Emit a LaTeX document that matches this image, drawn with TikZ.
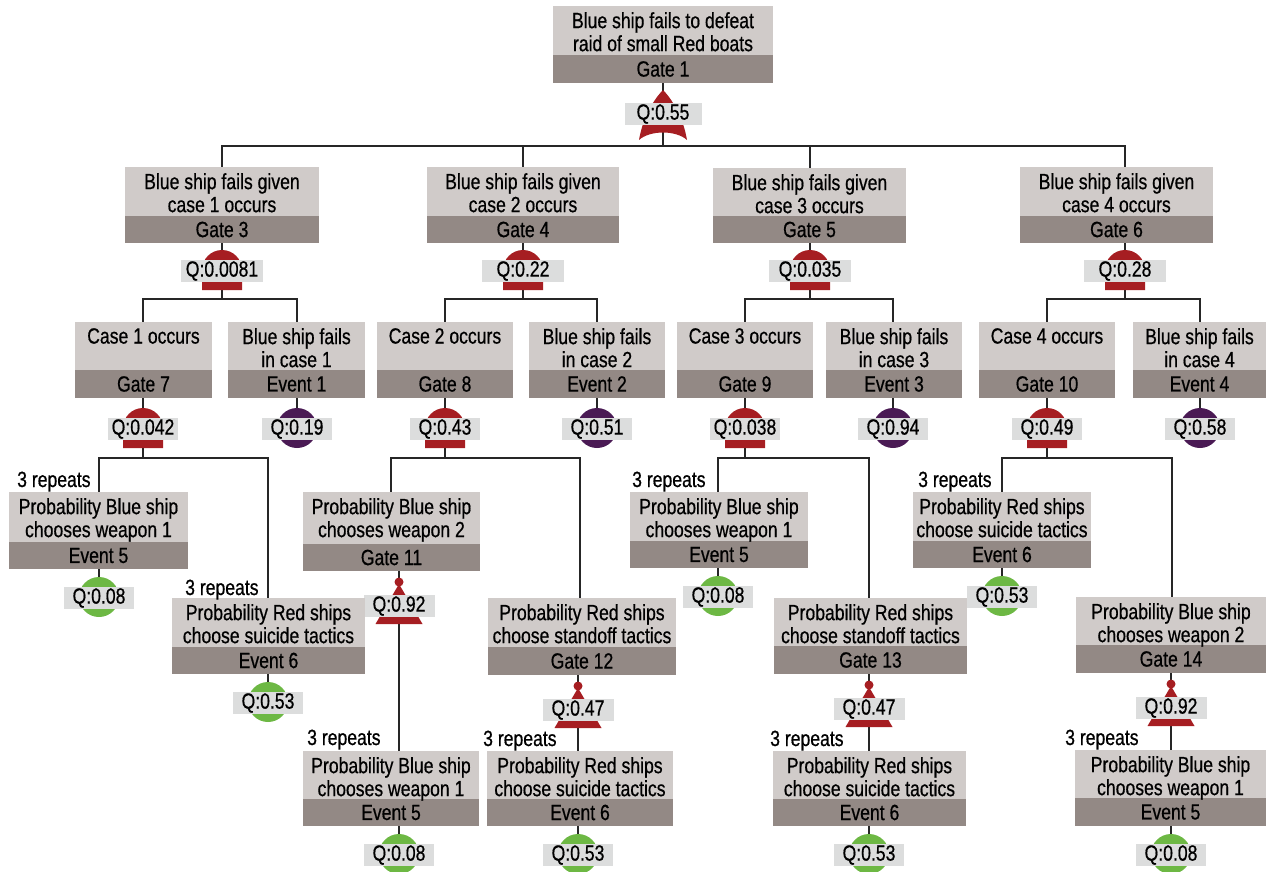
\documentclass[tikz,border=0pt]{standalone}
\usepackage{fontspec}
\setmainfont{Liberation Sans}[FakeStretch=0.8,FakeBold=0.6]
\pgfdeclarelayer{bg}
\pgfsetlayers{bg,main}
\definecolor{boxlight}{HTML}{D0CBC9}
\definecolor{boxdark}{HTML}{938985}
\definecolor{qgray}{HTML}{DCDDDD}
\definecolor{gred}{HTML}{A61E22}
\definecolor{gpurple}{HTML}{4A1A54}
\definecolor{ggreen}{HTML}{6DB844}
\tikzset{
  topbox/.style={fill=boxlight,draw=none,inner sep=0pt,outer sep=0pt},
  bandbox/.style={fill=boxdark,draw=none,inner sep=0pt,outer sep=0pt,font=\fontsize{22}{23}\selectfont},
  boxtxt/.style={align=center,inner sep=0pt,font=\fontsize{22}{23}\selectfont},
  qlab/.style={fill=qgray,inner sep=0pt,minimum height=22pt,font=\fontsize{22}{23}\selectfont},
  reptxt/.style={inner sep=0pt,anchor=base west,font=\fontsize{22}{23}\selectfont},
  wire/.style={draw=black!85,line width=1.2pt}
}
\newcommand\fbx[8]{%
  \pgfmathsetmacro\bxw{#3-#2}%
  \pgfmathsetmacro\bxt{#5-#4}%
  \pgfmathsetmacro\bxb{#6-#5}%
  \pgfmathsetmacro\bxc{(#2+#3)/2}%
  \node[topbox,minimum width=\bxw pt,minimum height=\bxt pt,anchor=north west] (#1) at (#2,#4) {};%
  \node[bandbox,minimum width=\bxw pt,minimum height=\bxb pt,anchor=north west] (#1b) at (#2,#5) {#8};%
  \node[boxtxt,anchor=north] (#1t) at (\bxc,#4+6) {#7};%
}
\newcommand\andg[5]{%
  \fill[gred] (#2,#3) ++(-20pt,0pt) arc[start angle=180,end angle=0,radius=20pt] -- ++(0,20) -- ++(-40pt,0pt) -- cycle;%
  \node[qlab,minimum width=#5pt] (#1) at (#2,#3+1) {Q:#4};%
}
\newcommand\evt[5]{%
  \fill[#5] (#2,#3) circle[radius=20pt];%
  \node[qlab,minimum width=70pt] (#1) at (#2,#3+1) {Q:#4};%
}
\newcommand\prig[4]{%
  \fill[gred] (#2,#3+11) circle[radius=4.5pt];%
  \fill[gred] (#2,#3+13) -- (#2+23.5,#3+53) -- (#2-23.5,#3+53) -- cycle;%
  \node[qlab,minimum width=71pt] (#1) at (#2,#3+35) {Q:#4};%
}
\begin{document}
\begin{tikzpicture}[x=1pt,y=-1pt]
\useasboundingbox (0,0) rectangle (1266,872);
% level 1
\fbx{g1}{553}{773}{6}{55}{83}{Blue ship fails to defeat\\raid of small Red boats}{Gate 1}
\fill[gred] (663,90) .. controls (671,98) and (683,116) .. (687,140) .. controls (676,130) and (650,130) .. (639,140) .. controls (643,116) and (655,98) .. cycle;
\node[qlab,minimum width=77pt] (qg1) at (663,114) {Q:0.55};
% level 2
\fbx{g3}{125}{319}{167}{216}{243}{Blue ship fails given\\case 1 occurs}{Gate 3}
\andg{qg3}{222}{270}{0.0081}{82}
\fbx{g4}{427}{619}{167}{216}{243}{Blue ship fails given\\case 2 occurs}{Gate 4}
\andg{qg4}{523}{270}{0.22}{82}
\fbx{g5}{713}{906}{168}{216}{243}{Blue ship fails given\\case 3 occurs}{Gate 5}
\andg{qg5}{810}{270}{0.035}{82}
\fbx{g6}{1020}{1213}{167}{216}{243}{Blue ship fails given\\case 4 occurs}{Gate 6}
\andg{qg6}{1125}{270}{0.28}{82}
% level 3
\fbx{c1}{75}{212}{322}{370}{398}{Case 1 occurs}{Gate 7}
\andg{qg7}{143}{428}{0.042}{70}
\fbx{e1}{228}{365}{322}{370}{398}{Blue ship fails\\in case 1}{Event 1}
\evt{qe1}{297}{428}{0.19}{gpurple}
\fbx{c2}{377}{513}{322}{370}{398}{Case 2 occurs}{Gate 8}
\andg{qg8}{445}{428}{0.43}{70}
\fbx{e2}{529}{665}{322}{370}{398}{Blue ship fails\\in case 2}{Event 2}
\evt{qe2}{597}{428}{0.51}{gpurple}
\fbx{c3}{677}{813}{322}{370}{398}{Case 3 occurs}{Gate 9}
\andg{qg9}{745}{428}{0.038}{70}
\fbx{e3}{826}{962}{322}{370}{398}{Blue ship fails\\in case 3}{Event 3}
\evt{qe3}{893}{428}{0.94}{gpurple}
\fbx{c4}{979}{1115}{322}{370}{398}{Case 4 occurs}{Gate 10}
\andg{qg10}{1047}{428}{0.49}{70}
\fbx{e4}{1133}{1266}{322}{370}{398}{Blue ship fails\\in case 4}{Event 4}
\evt{qe4}{1200}{428}{0.58}{gpurple}
% level 4 A
\fbx{a7}{9}{188}{492}{542}{569}{Probability Blue ship\\chooses weapon 1}{Event 5}
\evt{qa7}{99}{597}{0.08}{ggreen}
\fbx{a8}{303}{480}{492}{544}{571}{Probability Blue ship\\chooses weapon 2}{Gate 11}
\prig{qa8}{399}{571}{0.92}
\fbx{a9}{630}{808}{492}{541}{568}{Probability Blue ship\\chooses weapon 1}{Event 5}
\evt{qa9}{718}{596}{0.08}{ggreen}
\fbx{a10}{913}{1091}{492}{541}{568}{Probability Red ships\\choose suicide tactics}{Event 6}
\evt{qa10}{1002}{596}{0.53}{ggreen}
% level 4 B
\fbx{b7}{172}{365}{598}{647}{674}{Probability Red ships\\choose suicide tactics}{Event 6}
\evt{qb7}{268}{702}{0.53}{ggreen}
\fbx{b8}{488}{676}{598}{647}{675}{Probability Red ships\\choose standoff tactics}{Gate 12}
\prig{qb8}{578}{675}{0.47}
\fbx{b9}{774}{967}{598}{646}{674}{Probability Red ships\\choose standoff tactics}{Gate 13}
\prig{qb9}{869}{674}{0.47}
\fbx{b10}{1076}{1266}{597}{645}{673}{Probability Blue ship\\chooses weapon 2}{Gate 14}
\prig{qb10}{1171}{673}{0.92}
% level 5
\fbx{d11}{303}{479}{751}{799}{826}{Probability Blue ship\\chooses weapon 1}{Event 5}
\evt{qd11}{399}{854}{0.08}{ggreen}
\fbx{d12}{487}{673}{751}{799}{826}{Probability Red ships\\choose suicide tactics}{Event 6}
\evt{qd12}{578}{854}{0.53}{ggreen}
\fbx{d13}{773}{966}{751}{799}{826}{Probability Red ships\\choose suicide tactics}{Event 6}
\evt{qd13}{869}{854}{0.53}{ggreen}
\fbx{d14}{1075}{1266}{750}{798}{826}{Probability Blue ship\\chooses weapon 1}{Event 5}
\evt{qd14}{1171}{854}{0.08}{ggreen}
% repeats
\node[reptxt] (r1) at (17,487) {3 repeats};
\node[reptxt] (r2) at (185,595) {3 repeats};
\node[reptxt] (r3) at (307,745) {3 repeats};
\node[reptxt] (r4) at (483,746) {3 repeats};
\node[reptxt] (r5) at (632,487) {3 repeats};
\node[reptxt] (r6) at (770,746) {3 repeats};
\node[reptxt] (r7) at (918,487) {3 repeats};
\node[reptxt] (r8) at (1065,745) {3 repeats};
% coordinates
\coordinate (g3in) at (222,167); \coordinate (g4in) at (523,167);
\coordinate (g5in) at (810,168); \coordinate (g6in) at (1125,167);
\coordinate (c1in) at (143,322); \coordinate (e1in) at (297,322);
\coordinate (c2in) at (445,322); \coordinate (e2in) at (597,322);
\coordinate (c3in) at (745,322); \coordinate (e3in) at (893,322);
\coordinate (c4in) at (1047,322); \coordinate (e4in) at (1200,322);
\coordinate (a7in) at (99,492); \coordinate (b7in) at (268,598);
\coordinate (a8in) at (391,492); \coordinate (b8in) at (580,598);
\coordinate (a9in) at (718,492); \coordinate (b9in) at (869,598);
\coordinate (a10in) at (1002,492); \coordinate (b10in) at (1172,597);
\coordinate (d11in) at (399,751); \coordinate (d12in) at (578,751);
\coordinate (d13in) at (869,751); \coordinate (d14in) at (1171,750);
\coordinate (bus1) at (663,146);
\coordinate (bus3) at (222,299); \coordinate (bus4) at (523,299);
\coordinate (bus5) at (810,299); \coordinate (bus6) at (1125,299);
\coordinate (bus7) at (143,458); \coordinate (bus8) at (445,458);
\coordinate (bus9) at (745,458); \coordinate (bus10) at (1047,458);
\begin{pgfonlayer}{bg}
\foreach \b/\q in {g1b/qg1,g3b/qg3,g4b/qg4,g5b/qg5,g6b/qg6,c1b/qg7,e1b/qe1,c2b/qg8,e2b/qe2,c3b/qg9,e3b/qe3,c4b/qg10,e4b/qe4,a7b/qa7,a8b/qa8,a9b/qa9,a10b/qa10,b7b/qb7,b8b/qb8,b9b/qb9,b10b/qb10,d11b/qd11,d12b/qd12,d13b/qd13,d14b/qd14}
  {\draw[wire] (\q |- \b.south) -- (\q.center);}
\draw[wire] (qg1.center) -- (bus1);
\draw[wire] (g3in) |- (bus1) -| (g6in);
\draw[wire] (bus1 -| g4in) -- (g4in);
\draw[wire] (bus1 -| g5in) -- (g5in);
\draw[wire] (qg3.center) -- (bus3); \draw[wire] (c1in) |- (bus3) -| (e1in);
\draw[wire] (qg4.center) -- (bus4); \draw[wire] (c2in) |- (bus4) -| (e2in);
\draw[wire] (qg5.center) -- (bus5); \draw[wire] (c3in) |- (bus5) -| (e3in);
\draw[wire] (qg6.center) -- (bus6); \draw[wire] (c4in) |- (bus6) -| (e4in);
\draw[wire] (qg7.center) -- (bus7); \draw[wire] (a7in) |- (bus7) -| (b7in);
\draw[wire] (qg8.center) -- (bus8); \draw[wire] (a8in) |- (bus8) -| (b8in);
\draw[wire] (qg9.center) -- (bus9); \draw[wire] (a9in) |- (bus9) -| (b9in);
\draw[wire] (qg10.center) -- (bus10); \draw[wire] (a10in) |- (bus10) -| (b10in);
\draw[wire] (qa8.center) -- (d11in);
\draw[wire] (qb8.center) -- (d12in);
\draw[wire] (qb9.center) -- (d13in);
\draw[wire] (qb10.center) -- (d14in);
\end{pgfonlayer}
\end{tikzpicture}
\end{document}
